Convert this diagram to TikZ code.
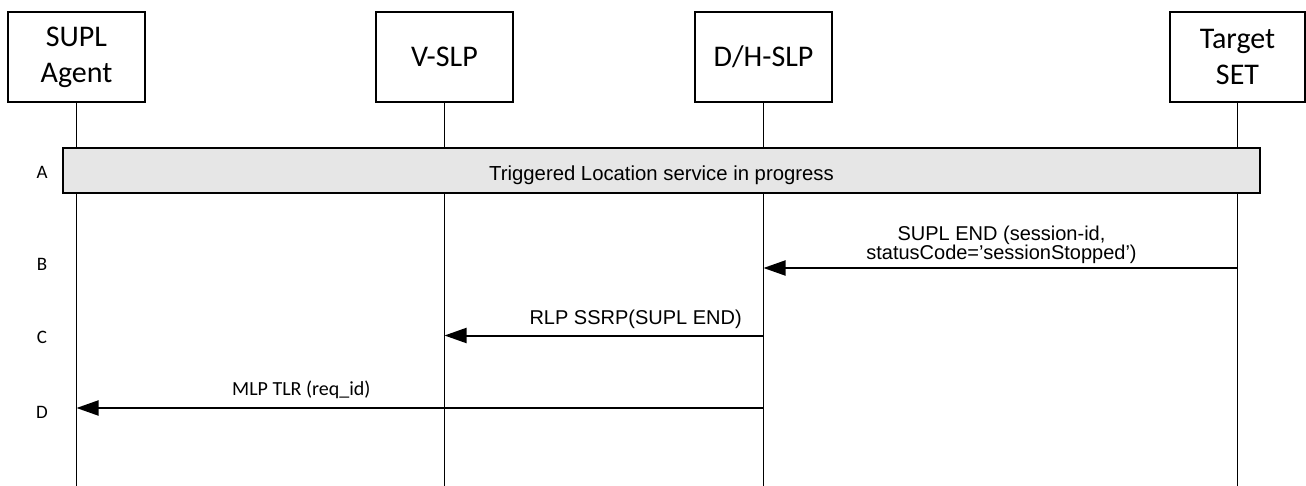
\documentclass[tikz,border=0pt]{standalone}
\usepackage{fontspec}
\setmainfont{Carlito}
\newfontfamily\arialf{Liberation Sans}
\usetikzlibrary{arrows.meta}
\definecolor{barfill}{RGB}{230,230,230}
\begin{document}
\begin{tikzpicture}[x=1pt,y=-1pt,
  actor/.style={draw,line width=1.5pt,minimum width=137pt,minimum height=90pt,inner sep=0pt,align=center,font=\fontsize{30}{36}\selectfont},
  life/.style={line width=1.3pt},
  msg/.style={line width=2pt,-{Triangle[length=22pt,width=15pt]}},
  steplbl/.style={font=\fontsize{19}{22}\selectfont,inner sep=0pt},
  msgtxt/.style={font=\arialf\fontsize{20}{19}\selectfont,inner sep=0pt},
  calitxt/.style={font=\fontsize{20}{24}\selectfont,inner sep=0pt},
  bar/.style={draw,fill=barfill,line width=1.5pt,minimum width=1197pt,minimum height=45pt,inner sep=0pt,text height=21pt,text depth=0pt,font=\arialf\fontsize{20.3}{24}\selectfont}
]
\useasboundingbox (0,0) rectangle (1306,486);

% actors
\node[actor] (sa) at (76.5,57) {SUPL\\Agent};
\node[actor] (vs) at (444.5,57) {V-SLP};
\node[actor] (dh) at (763.5,57) {D/H-SLP};
\node[actor,minimum width=135pt] (ts) at (1237.5,57) {Target\\SET};

% lifelines
\coordinate (bot) at (0,486);
\draw[life] (sa.south) -- (sa.south |- bot);
\draw[life] (vs.south) -- (vs.south |- bot);
\draw[life] (dh.south) -- (dh.south |- bot);
\draw[life] (ts.south) -- (ts.south |- bot);

% step A bar
\node[bar] (ga) at (661.5,170.5) {Triggered Location service in progress};

% step labels
\node[steplbl] (lA) at (42,172) {A};
\node[steplbl] (lB) at (42,264) {B};
\node[steplbl] (lC) at (42,337) {C};
\node[steplbl] (lD) at (42,412) {D};

% message rows
\coordinate (rB) at (0,268);
\coordinate (rC) at (0,335.5);
\coordinate (rD) at (0,408);

\coordinate (tsB) at (ts.south |- rB);
\coordinate (dhB) at (dh.south |- rB);
\coordinate (dhC) at (dh.south |- rC);
\coordinate (vsC) at (vs.south |- rC);
\coordinate (dhD) at (dh.south |- rD);
\coordinate (saD) at (sa.south |- rD);

\draw[msg] (tsB) -- (dhB);
\draw[msg] (dhC) -- (vsC);
\draw[msg] (dhD) -- (saD);

% message labels
\node[msgtxt,align=center,anchor=south] (mB) at (1001.5,263.5) {SUPL END (session-id,\\statusCode=’sessionStopped’)};
\node[msgtxt,anchor=base east] (mC) at (742,324) {RLP SSRP(SUPL END)};
\node[calitxt,anchor=base west] (mD) at (232,395) {MLP TLR (req\_id)};
\end{tikzpicture}
\end{document}
